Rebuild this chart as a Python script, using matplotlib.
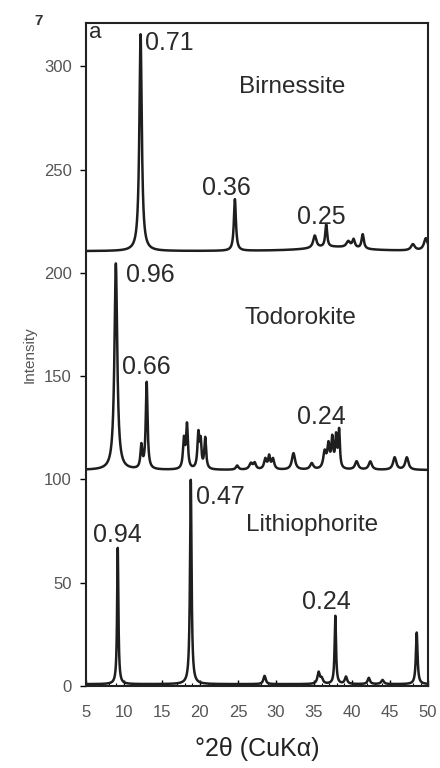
import numpy as np
import matplotlib
matplotlib.use("Agg")
import matplotlib.pyplot as plt
from matplotlib.ticker import MultipleLocator

plt.rcParams["font.family"] = ["Liberation Sans", "DejaVu Sans"]

# ---------- peak tables (2theta, height above baseline, half-width) ----------
birn_base = 210.5
birn_pos = [12.2, 24.6, 35.1, 36.6, 39.5, 40.2, 41.4, 48.0, 49.7, 37.5]
birn_hgt = [105, 25, 6, 11, 3, 4, 7, 3, 6, 2.0]
birn_wid = [0.19, 0.16, 0.25, 0.15, 0.3, 0.2, 0.18, 0.3, 0.3, 4.0]

todo_base = 104.5
todo_pos = [8.95, 12.3, 13.0, 17.9, 18.3, 19.8, 20.1, 20.7, 24.9, 26.7, 27.2,
            28.6, 29.1, 29.6, 32.3, 34.7, 36.4, 36.9, 37.4, 37.9, 38.3,
            40.6, 42.4, 45.6, 47.2]
todo_hgt = [100, 11, 42, 14, 21, 17, 12, 15, 2, 3, 3,
            5, 6, 5, 8, 3, 8, 11, 14, 15, 18,
            4, 4, 6, 6]
todo_wid = [0.22, 0.14, 0.14, 0.15, 0.14, 0.15, 0.12, 0.14, 0.2, 0.25, 0.2,
            0.2, 0.15, 0.2, 0.25, 0.25, 0.22, 0.18, 0.15, 0.14, 0.12,
            0.25, 0.25, 0.25, 0.25]

lith_base = 0.8
lith_pos = [9.2, 18.8, 28.5, 35.6, 36.0, 37.8, 39.2, 42.2, 44.0, 48.5]
lith_hgt = [66, 99, 4, 5.5, 2.5, 33, 3.5, 3, 2, 25]
lith_wid = [0.1, 0.12, 0.18, 0.18, 0.2, 0.11, 0.18, 0.18, 0.2, 0.13]

# peak annotations (d-spacing in nm) and mineral names
ann_text = ["0.71", "0.36", "0.25", "0.96", "0.66", "0.24", "0.47", "0.94", "0.24"]
ann_x = [12.8, 20.3, 32.8, 10.3, 9.8, 32.8, 19.5, 6.0, 33.4]
ann_y = [311.5, 241, 227, 199, 154.5, 130, 91.5, 73, 40.5]

names = ["Birnessite", "Todorokite", "Lithiophorite"]
name_x = [25.2, 25.9, 26.1]
name_y = [290, 178, 78]


def profile(tt, base, pos, hgt, wid):
    y = np.full_like(tt, base)
    for c, h, w in zip(pos, hgt, wid):
        y += h / (1.0 + ((tt - c) / w) ** 2)
    return y


fig = plt.figure(figsize=(4.4, 7.68), dpi=100)
ax = fig.add_axes([0.195, 0.107, 0.778, 0.863])

tt = np.linspace(5, 50, 6000)
for base, pos, hgt, wid in [(birn_base, birn_pos, birn_hgt, birn_wid),
                            (todo_base, todo_pos, todo_hgt, todo_wid),
                            (lith_base, lith_pos, lith_hgt, lith_wid)]:
    ax.plot(tt, profile(tt, base, pos, hgt, wid), color="#1e1e1e", lw=1.8)

for s, x, y in zip(ann_text, ann_x, ann_y):
    ax.text(x, y, s, fontsize=18, color="#2a2a2a", ha="left", va="center")
for s, x, y in zip(names, name_x, name_y):
    ax.text(x, y, s, fontsize=17.5, color="#2a2a2a", ha="left", va="center")
ax.text(5.4, 316.5, "a", fontsize=16, color="#2a2a2a", ha="left", va="center")

ax.set_xlim(5, 50)
ax.set_ylim(0, 321)
ax.xaxis.set_major_locator(MultipleLocator(5))
ax.xaxis.set_minor_locator(MultipleLocator(1))
ax.yaxis.set_major_locator(MultipleLocator(50))
ax.tick_params(axis="x", which="major", direction="in", length=4, width=1.0,
               labelsize=12, labelcolor="#555555", pad=14)
ax.tick_params(axis="x", which="minor", direction="in", length=2, width=0.8)
ax.tick_params(axis="y", direction="out", length=4, width=1.0,
               labelsize=12, labelcolor="#555555", pad=6)
for sp in ax.spines.values():
    sp.set_linewidth(1.5)
    sp.set_color("#222222")

ax.set_ylabel("Intensity", fontsize=11, color="#555555", labelpad=5)
ax.set_xlabel("°2θ (CuKα)", fontsize=18, color="#222222", labelpad=12)

fig.text(0.087, 0.973, "7", fontsize=11, fontweight="bold", color="#333333",
         ha="center", va="center")

fig.savefig("out.png", dpi=100, facecolor="white")
